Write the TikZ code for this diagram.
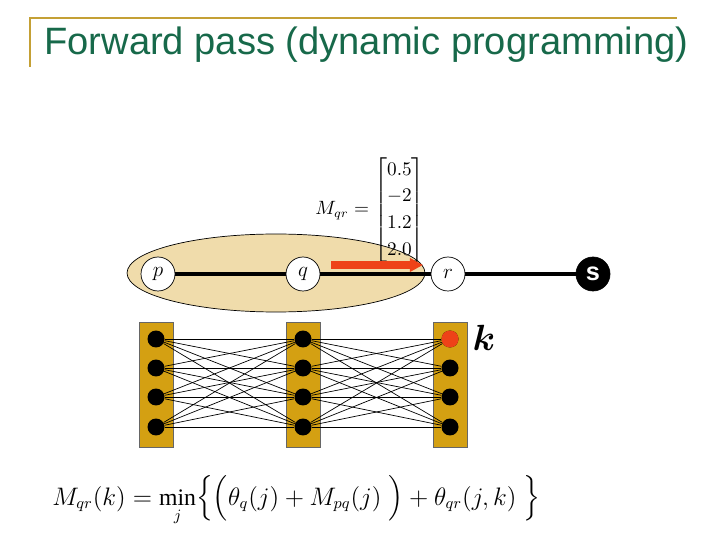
\documentclass[tikz,border=0pt]{standalone}
\usepackage{amsmath}
\usepackage{fontspec}
\setmainfont{Liberation Serif}
\newfontfamily\slidesans{Liberation Sans}
\usepackage{tikz}
\usetikzlibrary{arrows.meta,positioning,shapes.geometric}
\definecolor{slideGreen}{HTML}{17694A}
\definecolor{slideGold}{HTML}{C4A035}
\definecolor{stateGold}{HTML}{D4A012}
\definecolor{cliqueTan}{HTML}{F0DCAB}
\definecolor{passRed}{HTML}{EE4218}

\begin{document}
\begin{tikzpicture}[x=0.02cm, y=-0.02cm,
    varnode/.style={circle, draw, thin, fill=white, minimum size=0.68cm, inner sep=0pt, font=\large},
    statebox/.style={draw=black!60, fill=stateGold, minimum width=0.68cm, minimum height=2.5cm, inner sep=0pt},
    statedot/.style={circle, fill=black, minimum size=0.34cm, inner sep=0pt},
    chainedge/.style={line width=2.2pt},
    linkedge/.style={line width=0.4pt}]
                \useasboundingbox (0,0) rectangle (720,540);
                % title bar
                \draw[slideGold, line width=1.6pt] (30,67) -- (30,18) -- (677,18);
                \node[anchor=base west, inner sep=0pt, text=slideGreen, font=\slidesans\fontsize{21.7}{24}\selectfont] (title) at (44,55) {Forward pass (dynamic programming)};
                % chain p-q-r-s
                \node[ellipse, draw, fill=cliqueTan, minimum width=5.96cm, minimum height=1.56cm] (clique) at (276,273) {};
                \node[inner sep=0pt, font=\fontsize{10.5}{12.5}\selectfont] (msg) at (370,210) {$M_{qr}=\renewcommand{\arraystretch}{1.22}\begin{bmatrix}0.5\\-2\\1.2\\2.0\end{bmatrix}$};
                \node[varnode] (p) at (158,274) {$p$};
                \node[varnode] (q) at (303,274) {$q$};
                \node[varnode] (r) at (448,274) {$r$};
                \node[varnode, fill=black, text=white, font=\slidesans\bfseries\Large] (s) at (593,274) {s};
                \draw[chainedge] (p) -- (q);
                \draw[chainedge] (q) -- (r);
                \draw[chainedge] (r) -- (s);
                \coordinate (msgstart) at (331,265);
                \coordinate (msgend) at (423,265);
                \draw[passRed, line width=4pt, -{Triangle[length=7.5pt, width=7.5pt]}] (msgstart) -- (msgend);
                % label trellis
                \node[statebox] (boxp) at (156,384.5) {};
                \node[statebox] (boxq) at (303,384.5) {};
                \node[statebox] (boxr) at (450,384.5) {};
                \foreach \i/\y in {1/339,2/368,3/397,4/427} {
                    \node[statedot] (dp\i) at (156,\y) {};
                    \node[statedot] (dq\i) at (303,\y) {};
                    \node[statedot] (dr\i) at (450,\y) {};
                }
                \node[statedot, fill=passRed] at (dr1) {};
                \foreach \i in {1,...,4}
                    \foreach \j in {1,...,4} {
                        \draw[linkedge] (dp\i) -- (dq\j);
                        \draw[linkedge] (dq\i) -- (dr\j);
                    }
                \node[font=\fontsize{20}{22}\selectfont] (klabel) at (484,338) {$\boldsymbol{k}$};
                % update rule
                \node[anchor=base west, inner sep=0pt, font=\fontsize{13.5}{16}\selectfont] (update) at (52,505) {$M_{qr}(k) = \min\limits_{j} \Bigl\{\Bigl(\theta_{q}(j) + M_{pq}(j)\;\Bigr) + \theta_{qr}(j,k)\;\Bigr\}$};
            \end{tikzpicture}
\end{document}
